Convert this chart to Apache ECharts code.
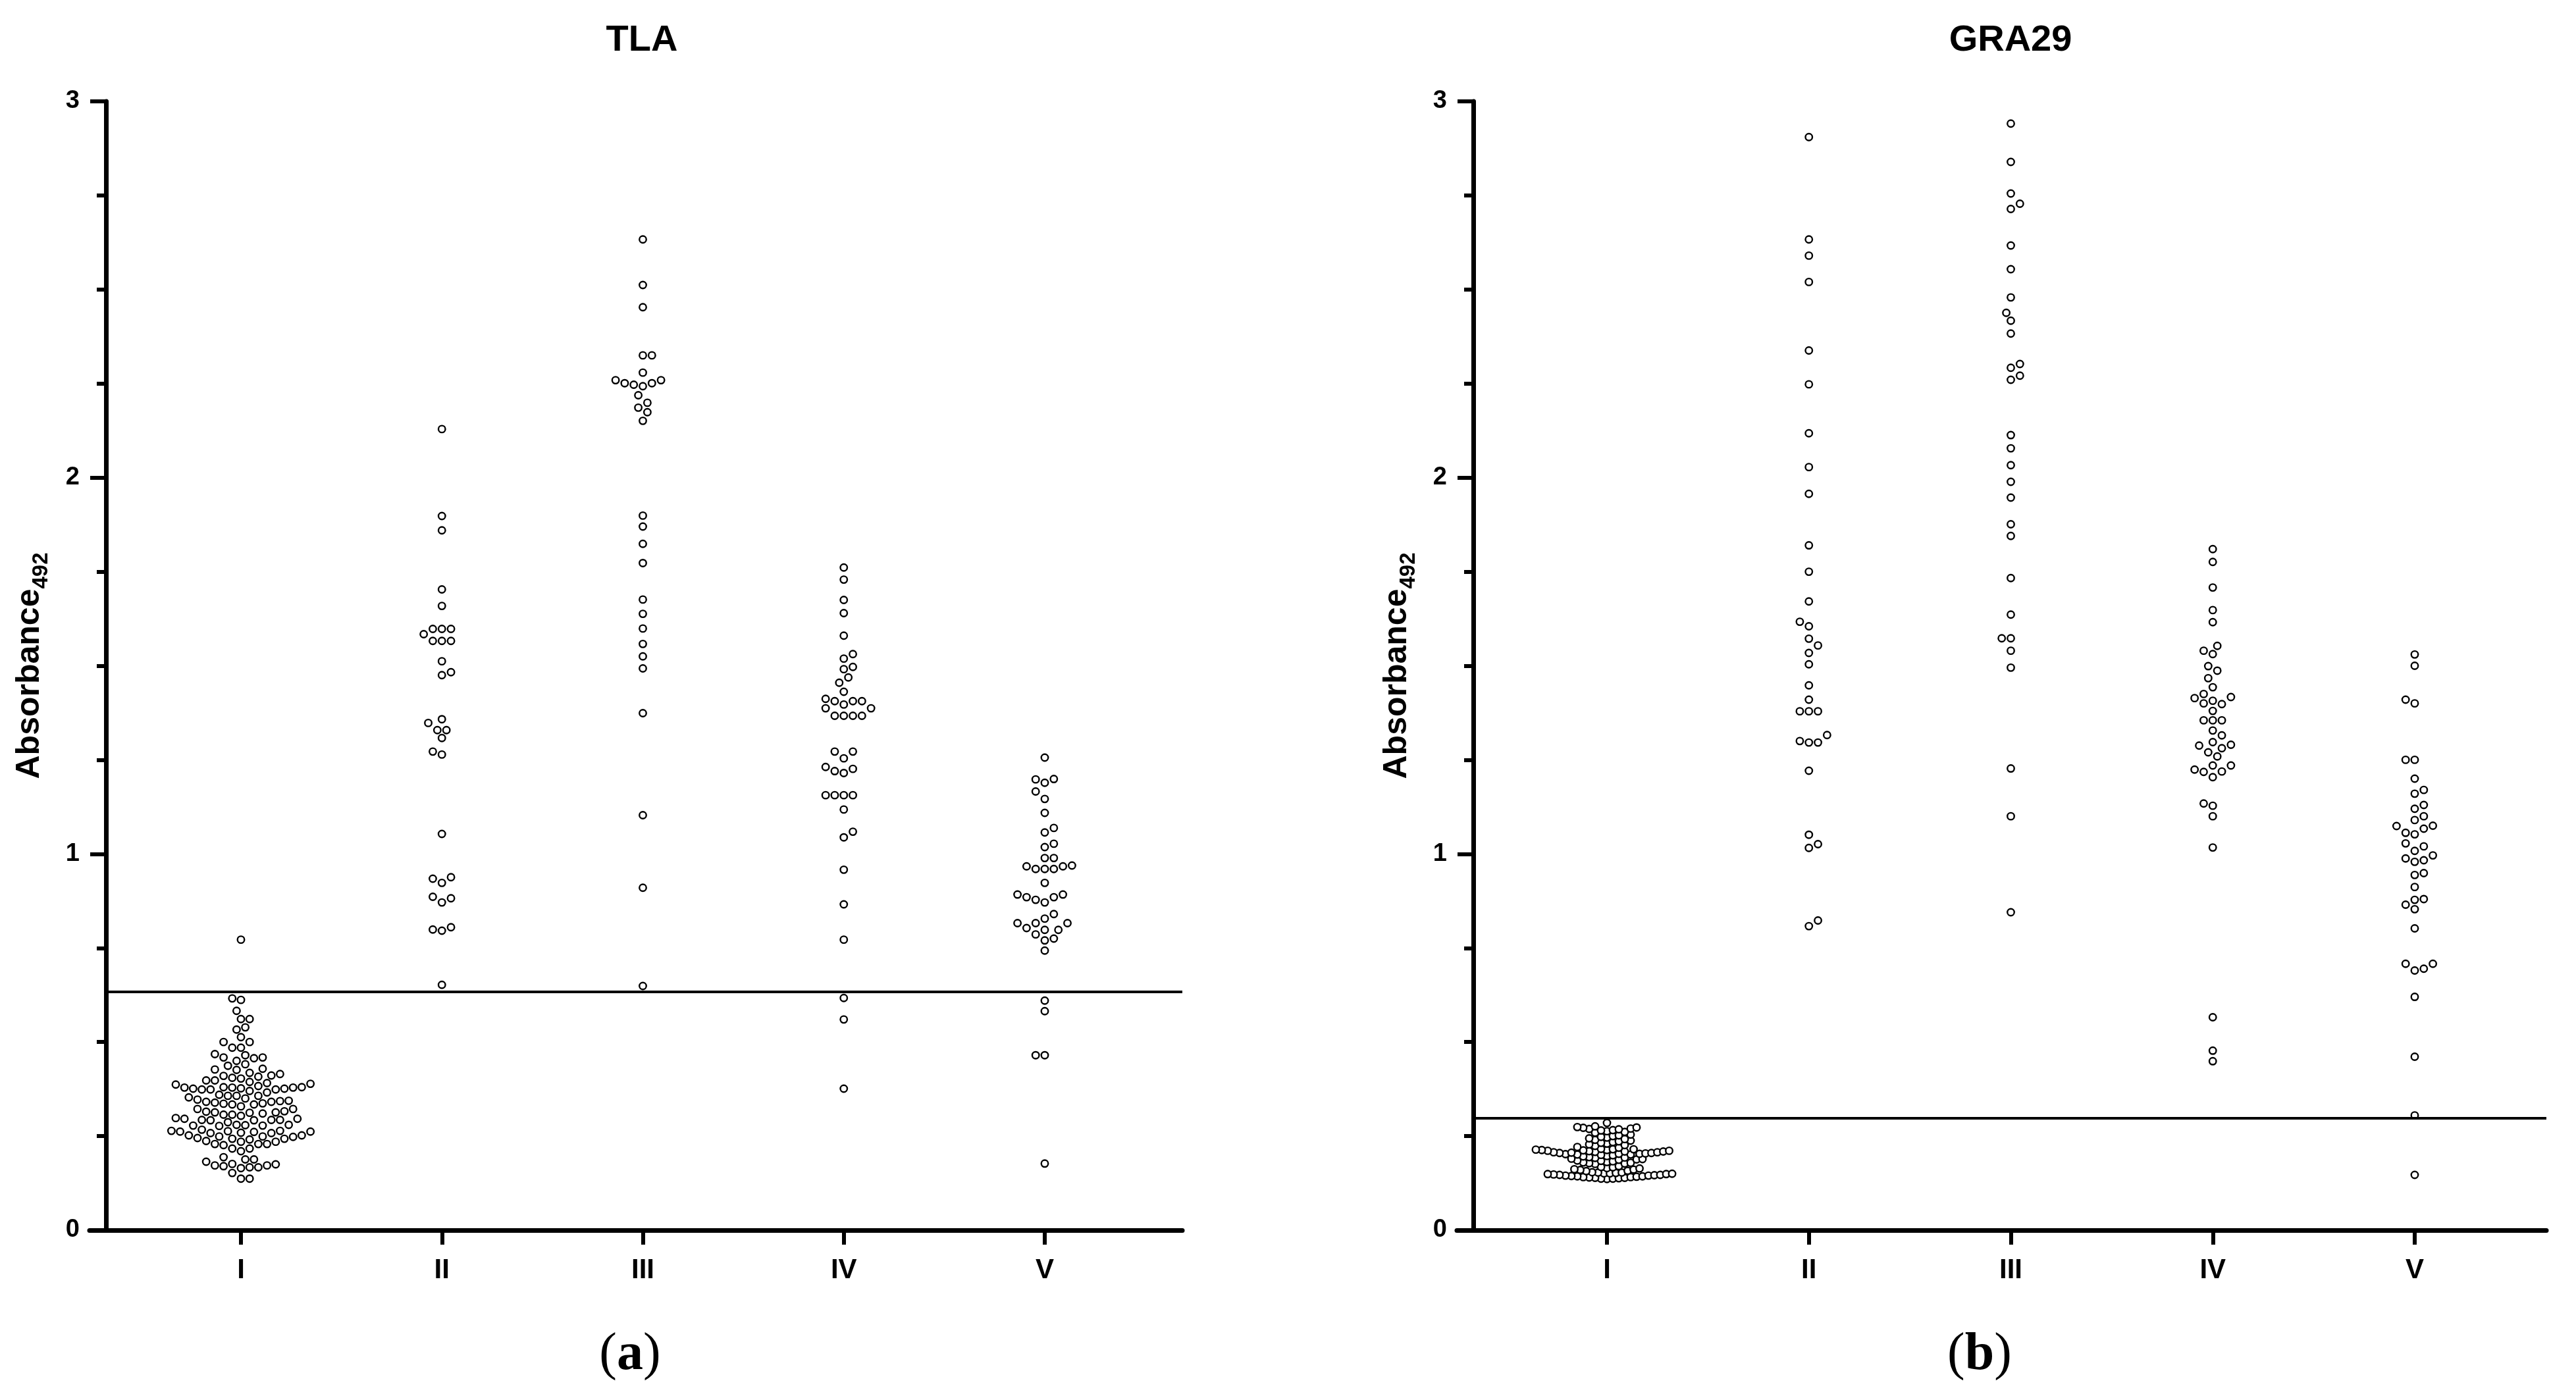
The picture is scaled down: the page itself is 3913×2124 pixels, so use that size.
<!DOCTYPE html>
<html><head><meta charset="utf-8">
<script src="https://cdn.jsdelivr.net/npm/echarts@6/dist/echarts.min.js"></script>
<style>html,body{margin:0;padding:0;background:#fff}#c{width:3913px;height:2124px}</style>
</head><body><div id="c"></div>
<script>
// ---------------- DATA ----------------
const categories = ['I', 'II', 'III', 'IV', 'V'];
const panelTitles = ['TLA', 'GRA29'];
const captionLetters = ['a', 'b'];
const yTickLabels = [0, 1, 2, 3];
const cutoffs = [0.633, 0.297];

const tlaI = [0.772,0.616,0.612,0.583,0.561,0.561,0.539,0.533,0.513,0.500,0.500,0.485,0.485,
  0.468,0.465,0.459,0.459,0.457,0.450,0.441,0.437,0.429,0.427,0.426,0.418,0.415,0.411,0.410,0.408,
  0.405,0.403,0.398,0.398,0.394,0.391,0.389,0.387,
  0.383,0.380,0.380,0.379,0.379,0.379,0.377,0.376,0.376,0.374,0.374,0.374,0.370,
  0.366,0.360,0.357,0.357,0.357,0.353,0.350,0.347,0.344,
  0.343,0.341,0.341,0.339,0.337,0.336,0.334,0.334,0.329,
  0.322,0.322,0.316,0.315,0.313,0.313,0.312,0.310,0.307,0.307,0.304,
  0.298,0.296,0.296,0.293,0.293,0.293,0.292,0.292,0.287,
  0.280,0.280,0.279,0.278,0.278,0.277,
  0.267,0.264,0.264,0.263,0.262,0.262,0.261,0.259,0.258,0.258,
  0.252,0.252,0.249,0.249,0.248,0.245,0.243,0.243,0.241,0.237,
  0.235,0.235,0.229,0.229,0.229,0.226,0.217,0.217,0.210,
  0.194,0.188,0.188,0.182,0.176,0.175,0.172,0.172,0.170,0.167,0.167,0.165,
  0.152,0.137,0.137];
const tlaII = [2.129,1.898,1.860,1.703,1.659,1.598,1.598,1.598,1.584,1.566,1.566,1.566,1.512,1.483,1.475,
  1.358,1.348,1.329,1.329,1.308,1.272,1.264,1.053,0.938,0.934,0.923,0.886,0.882,0.871,0.805,0.799,0.796,0.652];
const tlaIII = [2.633,2.512,2.453,2.325,2.325,2.279,2.259,2.259,2.251,2.251,2.247,2.243,2.219,2.199,2.186,2.174,2.151,
  1.899,1.870,1.824,1.773,1.676,1.638,1.599,1.558,1.525,1.493,1.374,1.103,0.910,0.649];
const tlaIV = [1.761,1.729,1.675,1.640,1.580,1.531,1.519,1.497,1.491,1.469,1.455,1.431,1.412,1.406,1.406,1.406,1.397,
  1.387,1.387,1.367,1.367,1.367,1.367,1.272,1.272,1.254,1.231,1.226,1.220,1.215,1.156,1.156,1.156,1.156,1.118,1.059,
  1.044,0.958,0.866,0.772,0.617,0.560,0.376];
const tlaV = [1.256,1.199,1.198,1.189,1.166,1.146,1.109,1.069,1.057,1.027,1.018,0.989,0.989,0.969,0.967,0.967,0.960,
  0.960,0.960,0.923,0.892,0.892,0.885,0.885,0.878,0.871,0.840,0.828,0.816,0.816,0.816,0.803,0.798,0.798,0.786,0.775,
  0.770,0.743,0.610,0.582,0.465,0.465,0.177];

const graI = [0.285,
  0.276,0.274,0.273,0.272,0.270,0.269,0.268,0.266,0.265,0.263,0.261,0.259,
  0.254,0.252,0.250,0.248,0.246,0.244,0.242,0.240,0.238,0.236,0.234,0.232,0.230,0.228,0.226,0.224,0.221,0.219,
  0.216,0.215,0.215,0.214,0.213,0.213,0.212,0.211,0.211,0.210,0.209,0.209,0.208,0.207,0.207,0.206,0.205,0.205,
  0.204,0.203,0.203,0.202,0.201,0.201,0.200,0.199,
  0.197,0.196,0.194,0.193,0.192,0.190,0.189,0.188,0.187,0.185,0.184,0.183,0.181,0.180,0.179,0.178,0.177,0.176,
  0.170,0.168,0.167,0.165,0.164,0.162,0.161,0.160,0.158,0.157,
  0.154,0.153,0.153,0.152,0.151,0.151,0.150,0.149,0.149,0.148,0.147,0.147,0.146,0.145,0.145,0.144,0.143,0.143,
  0.142,0.141,0.141,0.140,0.139,0.139,0.138,0.137,0.137,0.136];
const graII = [2.905,2.633,2.590,2.520,2.338,2.248,2.118,2.028,1.957,1.820,1.750,1.671,1.617,1.605,1.572,1.554,1.534,
  1.504,1.448,1.410,1.379,1.379,1.379,1.316,1.300,1.296,1.296,1.221,1.051,1.026,1.016,0.823,0.808];
const graIII = [2.941,2.839,2.755,2.728,2.714,2.617,2.554,2.479,2.438,2.417,2.383,2.302,2.292,2.271,2.260,2.113,2.078,
  2.033,1.989,1.947,1.876,1.845,1.733,1.636,1.573,1.573,1.540,1.495,1.227,1.100,0.845];
const graIV = [1.810,1.776,1.708,1.648,1.616,1.553,1.540,1.531,1.499,1.487,1.467,1.443,1.425,1.417,1.414,1.407,1.398,
  1.400,1.380,1.355,1.355,1.355,1.328,1.315,1.297,1.290,1.288,1.281,1.270,1.259,1.235,1.235,1.218,1.224,1.219,1.204,
  1.134,1.128,1.100,1.017,0.566,0.477,0.449];
const graV = [1.53,1.50,1.41,1.40,1.25,1.25,1.20,1.17,1.16,1.13,1.12,1.10,1.09,
  1.075,1.074,1.067,1.056,1.052,1.028,1.020,1.008,0.996,0.988,0.983,0.979,0.949,0.944,0.912,0.880,0.878,0.865,0.853,
  0.802,0.708,0.708,0.695,0.690,0.620,0.461,0.305,0.147];

const panelGroups = [[tlaI, tlaII, tlaIII, tlaIV, tlaV], [graI, graII, graIII, graIV, graV]];

// ---------------- LAYOUT ----------------
const TOP = 154, BOTTOM = 1869;
const PLOT_H = BOTTOM - TOP;
const panels = [
  {gridLeft: 136, axisX: 161, right: 1796, firstX: 366, step: 305.25, titleX: 975, capX: 957},
  {gridLeft: 2213, axisX: 2238, right: 3868, firstX: 2441, step: 306.75, titleX: 3054, capX: 3007}
];
// swarm packing per [panel][group]: collision distance and max rightward spread (px)
const packing = [
  [{d: 13.2, maxRight: 1e9}, {d: 13.8, maxRight: 1e9}, {d: 13.8, maxRight: 1e9}, {d: 13.8, maxRight: 1e9}, {d: 13.8, maxRight: 1e9}],
  [{d: 9, maxRight: 100}, {d: 13.8, maxRight: 1e9}, {d: 13.8, maxRight: 1e9}, {d: 13.8, maxRight: 1e9}, {d: 13.8, maxRight: 1e9}]
];
const YMAX = 3;
const pxPerY = PLOT_H / YMAX;

function swarm(values, center, pxPerX, pack) {
  const D = pack.d;
  const pts = values.map(v => ({v, py: v * pxPerY})).sort((a, b) => a.v - b.v);
  const placed = [];
  const out = [];
  const s = D / 2;
  pts.forEach((p, idx) => {
    let off = 0;
    for (let i = 0; i < 600; i++) {
      const k = Math.ceil(i / 2);
      const sign = (i % 2 === 1) ? (idx % 2 ? 1 : -1) : (idx % 2 ? -1 : 1);
      const cand = i === 0 ? 0 : sign * k * s;
      if (cand > pack.maxRight) continue;
      let ok = true;
      for (const q of placed) {
        const dx = q.x - cand, dy = q.py - p.py;
        if (dx * dx + dy * dy < D * D - 0.01) { ok = false; break; }
      }
      if (ok) { off = cand; break; }
    }
    placed.push({x: off, py: p.py});
    out.push([center + off / pxPerX, p.v]);
  });
  return out;
}

const FONT = 'Liberation Sans, Arial, sans-serif';
const grids = [], xAxes = [], yAxes = [], series = [], graphics = [];

panels.forEach((P, pi) => {
  const width = P.right - P.gridLeft;
  const xmin = 1 - (P.firstX - P.gridLeft) / P.step;
  const xmax = 1 + (P.right - P.firstX) / P.step;
  const axisXData = 1 - (P.firstX - P.axisX) / P.step;
  grids.push({left: P.gridLeft, top: TOP, width: width, height: PLOT_H, containLabel: false});
  xAxes.push({
    type: 'value', gridIndex: pi, min: xmin, max: xmax,
    axisLine: {show: true, onZero: false, lineStyle: {color: '#000', width: 7}},
    axisTick: {show: true, customValues: [1, 2, 3, 4, 5], length: 22, lineStyle: {color: '#000', width: 6}},
    axisLabel: {show: true, customValues: [1, 2, 3, 4, 5], margin: 40, color: '#000',
      fontFamily: FONT, fontWeight: 'bold', fontSize: 42,
      formatter: v => categories[Math.round(v) - 1] || ''},
    splitLine: {show: false}
  });
  yAxes.push({
    type: 'value', gridIndex: pi, min: yTickLabels[0], max: yTickLabels[yTickLabels.length - 1], interval: 1,
    offset: -(P.axisX - P.gridLeft),
    axisLine: {show: true, lineStyle: {color: '#000', width: 7}},
    axisTick: {show: true, length: 24, lineStyle: {color: '#000', width: 6}},
    minorTick: {show: true, splitNumber: 4, length: 14, lineStyle: {color: '#000', width: 6}},
    axisLabel: {show: true, margin: 40, color: '#000', fontFamily: FONT, fontWeight: 'bold', fontSize: 38},
    splitLine: {show: false}, minorSplitLine: {show: false},
    name: '{a|Absorbance}{s|492}', nameLocation: 'middle', nameRotate: 90, nameGap: 82,
    nameTextStyle: {color: '#000', rich: {
      a: {fontFamily: FONT, fontWeight: 'bold', fontSize: 50, lineHeight: 50, verticalAlign: 'top', color: '#000'},
      s: {fontFamily: FONT, fontWeight: 'bold', fontSize: 33, lineHeight: 59, verticalAlign: 'bottom', color: '#000'}
    }}
  });
  let data = [];
  panelGroups[pi].forEach((vals, gi) => { data = data.concat(swarm(vals, gi + 1, P.step, packing[pi][gi])); });
  series.push({
    type: 'scatter', xAxisIndex: pi, yAxisIndex: pi, data: data,
    symbol: 'circle', symbolSize: 10.5,
    itemStyle: {color: '#fff', borderColor: '#000', borderWidth: 2.4, opacity: 1},
    emphasis: {disabled: true}, silent: true, clip: false,
    markLine: {silent: true, symbol: ['none', 'none'], label: {show: false},
      lineStyle: {color: '#000', width: 4, type: 'solid'},
      data: [[{coord: [axisXData, cutoffs[pi]]}, {coord: [xmax, cutoffs[pi]]}]]}
  });
  graphics.push({type: 'text', x: P.titleX, y: 62, style: {text: panelTitles[pi], fill: '#000',
    font: 'bold 56px ' + FONT, textAlign: 'center', textVerticalAlign: 'middle'}});
  graphics.push({type: 'text', x: P.capX, y: 2059, style: {
    text: '{p|(}{b|' + captionLetters[pi] + '}{p|)}', textAlign: 'center', textVerticalAlign: 'middle',
    rich: {p: {fontFamily: 'Liberation Serif', fontSize: 80, fill: '#000', color: '#000'},
           b: {fontFamily: 'Liberation Serif', fontSize: 80, fontWeight: 'bold', fill: '#000', color: '#000'}}}});
});

const chart = echarts.init(document.getElementById('c'), null, {renderer: 'canvas'});
chart.setOption({
  animation: false, backgroundColor: '#fff',
  grid: grids, xAxis: xAxes, yAxis: yAxes, series: series, graphic: graphics
});
</script></body></html>
